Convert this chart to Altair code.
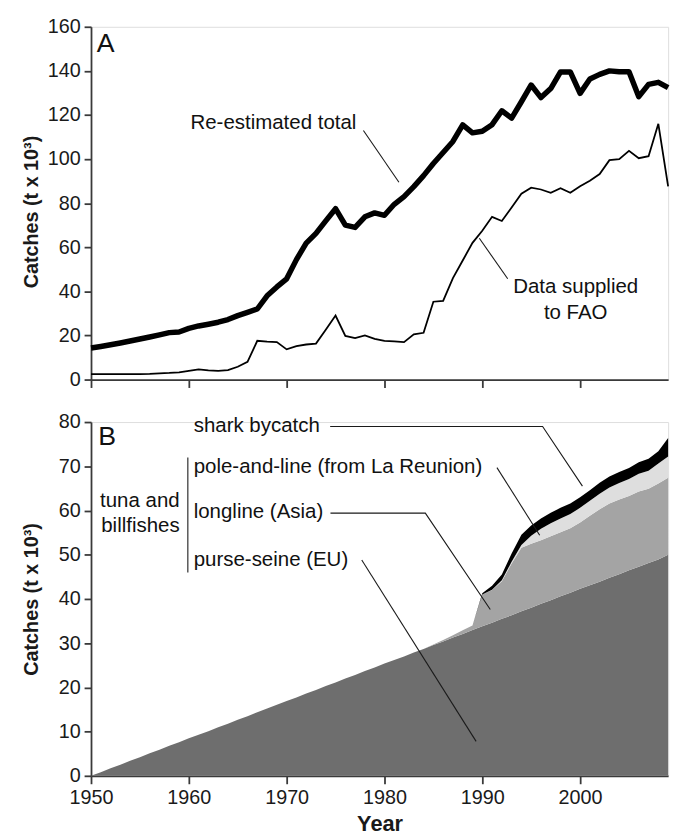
import altair as alt
import pandas as pd

FONT = "Liberation Sans"

years = list(range(1950, 2010))

# Panel A (t x 10^3)
re_estimated = [14.3, 15.0, 15.8, 16.6, 17.5, 18.4, 19.3, 20.3, 21.3, 21.6,
                23.2, 24.3, 25.1, 26.0, 27.2, 29.0, 30.5, 32.0, 38.0, 42.0,
                45.7, 54.4, 61.9, 66.3, 72.0, 77.5, 70.0, 69.0, 73.8, 75.6,
                74.5, 79.5, 83.0, 87.5, 92.5, 98.0, 103.0, 108.0, 115.5, 111.9,
                112.6, 115.6, 121.9, 118.6, 126.0, 133.6, 127.9, 132.0, 139.5, 139.5,
                129.8, 136.3, 138.4, 140.0, 139.6, 139.6, 128.3, 133.9, 134.8, 132.4]
fao_supplied = [2.5, 2.5, 2.5, 2.5, 2.5, 2.5, 2.6, 2.8, 3.0, 3.3,
                3.9, 4.6, 4.2, 3.9, 4.3, 5.8, 8.0, 17.6, 17.2, 17.0,
                13.7, 15.2, 15.9, 16.3, 22.6, 29.0, 19.8, 18.8, 20.0, 18.5,
                17.5, 17.3, 17.0, 20.5, 21.2, 35.3, 35.7, 46.0, 54.0, 62.0,
                67.5, 73.8, 71.9, 78.0, 84.3, 87.0, 86.2, 84.7, 86.8, 84.7,
                87.7, 90.2, 93.2, 99.5, 100.0, 103.7, 100.4, 101.3, 116.0, 87.6]

# Panel B (t x 10^3), stacked
purse_seine = [0.0, 0.8, 1.7, 2.5, 3.4, 4.2, 5.1, 5.9, 6.8, 7.6,
               8.5, 9.3, 10.1, 11.0, 11.8, 12.7, 13.5, 14.4, 15.2, 16.1,
               16.9, 17.7, 18.6, 19.4, 20.3, 21.1, 22.0, 22.8, 23.7, 24.5,
               25.4, 26.2, 27.0, 27.9, 28.7, 29.6, 30.4, 31.3, 32.1, 33.0,
               33.8, 34.6, 35.5, 36.3, 37.2, 38.0, 38.9, 39.7, 40.6, 41.4,
               42.3, 43.1, 43.9, 44.8, 45.6, 46.5, 47.3, 48.1, 48.9, 50.0]
longline = [0.0, 0.0, 0.0, 0.0, 0.0, 0.0, 0.0, 0.0, 0.0, 0.0,
            0.0, 0.0, 0.0, 0.0, 0.0, 0.0, 0.0, 0.0, 0.0, 0.0,
            0.0, 0.0, 0.0, 0.0, 0.0, 0.0, 0.0, 0.0, 0.0, 0.0,
            0.0, 0.0, 0.0, 0.0, 0.0, 0.1, 0.3, 0.5, 0.8, 1.0,
            7.2, 7.4, 8.5, 11.7, 14.4, 14.5, 14.4, 14.5, 14.5, 14.6,
            15.0, 15.7, 16.4, 16.8, 16.9, 16.8, 17.0, 16.8, 17.2, 17.4]
pole_and_line = [0.0, 0.0, 0.0, 0.0, 0.0, 0.0, 0.0, 0.0, 0.0, 0.0,
                 0.0, 0.0, 0.0, 0.0, 0.0, 0.0, 0.0, 0.0, 0.0, 0.0,
                 0.0, 0.0, 0.0, 0.0, 0.0, 0.0, 0.0, 0.0, 0.0, 0.0,
                 0.0, 0.0, 0.0, 0.0, 0.0, 0.0, 0.0, 0.0, 0.0, 0.0,
                 0.0, 0.1, 0.2, 0.4, 0.6, 1.8, 2.6, 2.9, 3.1, 3.2,
                 3.3, 3.4, 3.5, 3.6, 3.7, 3.8, 4.0, 4.1, 4.5, 4.8]
shark_bycatch = [0.0, 0.0, 0.0, 0.0, 0.0, 0.0, 0.0, 0.0, 0.0, 0.0,
                 0.0, 0.0, 0.0, 0.0, 0.0, 0.0, 0.0, 0.0, 0.0, 0.0,
                 0.0, 0.0, 0.0, 0.0, 0.0, 0.0, 0.0, 0.0, 0.0, 0.0,
                 0.0, 0.0, 0.0, 0.0, 0.0, 0.0, 0.0, 0.0, 0.0, 0.0,
                 0.3, 0.9, 1.3, 1.9, 2.3, 2.3, 2.3, 2.4, 2.4, 2.4,
                 2.4, 2.4, 2.5, 2.5, 2.5, 2.5, 2.6, 2.7, 2.8, 4.2]

gear_names = ["purse-seine (EU)", "longline (Asia)",
              "pole-and-line (from La Reunion)", "shark bycatch"]
gear_colors = ["#6e6e6e", "#a4a4a4", "#dedede", "#000000"]

x_ticks = [1950, 1960, 1970, 1980, 1990, 2000]
y_ticks_a = [0, 20, 40, 60, 80, 100, 120, 140, 160]
y_ticks_b = [0, 10, 20, 30, 40, 50, 60, 70, 80]
y_title = "Catches (t x 10³)"

# ---------- tables ----------
df_a = pd.DataFrame({"year": years, "total": re_estimated, "fao": fao_supplied})
rows = []
for k, (name, vals) in enumerate(zip(gear_names,
                                     [purse_seine, longline, pole_and_line, shark_bycatch])):
    for yr, v in zip(years, vals):
        rows.append({"year": yr, "value": v, "gear": name, "ord": k})
df_b = pd.DataFrame(rows)

AX = dict(grid=False, domainColor="#3a3a3a", tickColor="#3a3a3a", domainWidth=1.8,
          tickWidth=1.8, labelFont=FONT, labelFontSize=20, labelColor="#1a1a1a",
          labelFlush=False, titleFont=FONT, titleFontWeight="bold", titleColor="#1a1a1a")


def X(field, show_labels, **kw):
    if show_labels:
        axis = alt.Axis(values=x_ticks, title="Year", format="d", tickSize=8,
                        labelPadding=4, titleFontSize=22, titlePadding=6, **AX)
    else:
        axis = alt.Axis(values=x_ticks, title=None, labels=False, tickSize=8, **AX)
    return alt.X(field, type="quantitative",
                 scale=alt.Scale(domain=[1950, 2009], nice=False, zero=False),
                 axis=axis, **kw)


def Y(field, top, **kw):
    if top:
        axis = alt.Axis(values=y_ticks_a, title=y_title, tickSize=7, labelPadding=4,
                        titleFontSize=20, titleX=-50, titleY=187, **AX)
        dom = [0, 160]
    else:
        axis = alt.Axis(values=y_ticks_b, title=y_title, tickSize=7, labelPadding=4,
                        titleFontSize=20, titleX=-50, **AX)
        dom = [0, 80]
    return alt.Y(field, type="quantitative", scale=alt.Scale(domain=dom, nice=False),
                 axis=axis, **kw)


def text_layer(labels, xs, ys, top, align="left", size=20.7, weight="normal"):
    d = pd.DataFrame({"label": labels, "x": xs, "y": ys})
    return alt.Chart(d).mark_text(align=align, baseline="alphabetic", font=FONT,
                                  fontSize=size, fontWeight=weight, color="#111").encode(
        x=X("x", not top), y=Y("y", top), text="label:N")


def poly_layer(groups, top):
    recs = []
    for g, pts in enumerate(groups):
        for i, (px, py) in enumerate(pts):
            recs.append({"x": px, "y": py, "grp": g, "ord": i})
    d = pd.DataFrame(recs)
    return alt.Chart(d).mark_line(color="#1a1a1a", strokeWidth=1.1).encode(
        x=X("x", not top), y=Y("y", top), detail="grp:N", order="ord:Q")


# ---------- panel A ----------
thick = alt.Chart(df_a).mark_line(color="black", strokeWidth=5.5, strokeJoin="round").encode(
    x=X("year", False), y=Y("total", True))
thin = alt.Chart(df_a).mark_line(color="black", strokeWidth=1.8).encode(
    x=X("year", False), y=Y("fao", True))

top = alt.layer(
    thick, thin,
    text_layer(["A"], [1950.58], [148.5], True, size=27),
    text_layer(["Re-estimated total"], [1960.17], [113.6], True),
    text_layer(["Data supplied", "to FAO"], [1999.55, 1999.55], [39.4, 27.5], True,
               align="center"),
    poly_layer([[(1977.85, 112.95), (1981.48, 89.5)],
                [(1989.7, 64.1), (1992.6, 45.7)]], True),
).properties(width=584, height=357)

# ---------- panel B ----------
areas = alt.Chart(df_b).mark_area(interpolate="linear").encode(
    x=X("year", True),
    y=Y("value", False, stack="zero"),
    color=alt.Color("gear:N", scale=alt.Scale(domain=gear_names, range=gear_colors),
                    legend=None),
    order=alt.Order("ord:Q", sort="ascending"),
)

bottom = alt.layer(
    areas,
    text_layer(["B"], [1950.74], [74.9], False, size=27),
    text_layer(gear_names[::-1], [1960.5] * 4, [77.77, 68.4, 58.2, 47.4], False),
    text_layer(["tuna and", "billfishes"], [1959.06, 1959.06], [60.7, 55.2], False,
               align="right"),
    poly_layer([
        [(1959.9, 72.0), (1959.9, 46.0)],
        [(1974.45, 79.0), (1996.17, 79.0), (2000.24, 65.5)],
        [(1991.5, 69.7), (1995.87, 54.4)],
        [(1974.48, 59.4), (1984.18, 59.4), (1990.82, 37.6)],
        [(1977.68, 48.8), (1989.37, 7.8)],
    ], False),
).properties(width=584, height=358)

chart = alt.vconcat(top, bottom, spacing=21).properties(
    padding={"left": 13, "top": 3, "right": 5, "bottom": 5}
).configure_view(stroke=None).configure(background="white")

chart.save("out.html", embed_options={"renderer": "svg", "actions": False})
